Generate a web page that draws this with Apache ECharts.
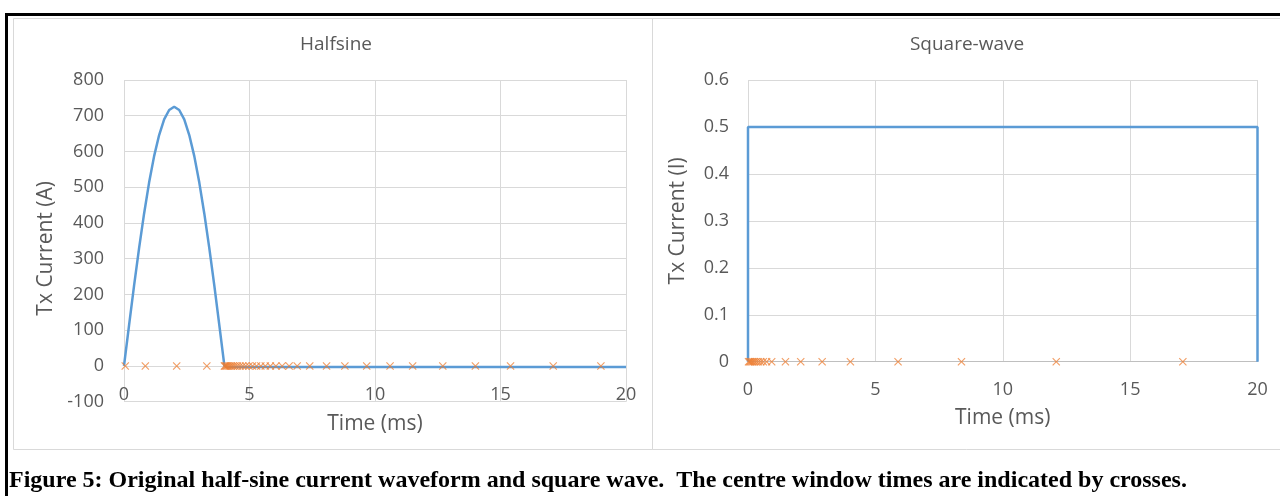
<!DOCTYPE html>
<html><head><meta charset="utf-8">
<script src="https://cdn.jsdelivr.net/npm/echarts@6/dist/echarts.min.js"></script>
<style>html,body{margin:0;padding:0;background:#fff}#c{width:1280px;height:496px}</style>
</head><body><div id="c"></div>
<script>
// ---- data ----
const xTicks = [0, 5, 10, 15, 20];
const halfsineYTicks = [-100, 0, 100, 200, 300, 400, 500, 600, 700, 800];
const squareYTicks = [0, 0.1, 0.2, 0.3, 0.4, 0.5, 0.6];

const halfsineTime    = [0,0.2,0.4,0.6,0.8,1.0,1.2,1.4,1.6,1.8,2.0,2.2,2.4,2.6,2.8,3.0,3.2,3.4,3.6,3.8,4.0,4.1,20];
const halfsineCurrent = [0,113,224,329,426,513,587,646,690,716,725,716,690,646,587,513,426,329,224,113,0,-3,-3];
const halfsineWindows = [0.05,0.85,2.1,3.3,4.0,4.03,4.07,4.11,4.16,4.22,4.28,4.35,4.43,4.52,4.62,4.73,4.85,4.98,5.12,5.28,5.45,5.63,5.83,6.05,6.3,6.58,6.9,7.4,8.07,8.8,9.67,10.6,11.5,12.7,14.0,15.4,17.1,19.0];

const squareTime    = [0, 0, 20, 20];
const squareCurrent = [0, 0.5, 0.5, 0];
const squareWindows = [0.02,0.06,0.1,0.15,0.2,0.26,0.33,0.41,0.5,0.6,0.73,0.93,1.47,2.07,2.91,4.02,5.89,8.38,12.1,17.07];

// ---- chart ----
const FONT = '"Open Sans", sans-serif';
const LABEL = '#595959';
const GRID = '#d9d9d9';
const BLUE = '#5b9bd5';
const ORANGE = '#ed7d31';
const CROSS = 'path://M1,0 L5,4 L9,0 L10,1 L6,5 L10,9 L9,10 L5,6 L1,10 L0,9 L4,5 L0,1 Z';
const TICK_SIZE = 18, NAME_SIZE = 21, TITLE_SIZE = 19;

const zip = (a, b) => a.map((v, i) => [v, b[i]]);

function xAxis(gridIndex, margin, nameGap, showLine) {
  return {
    type: 'value', gridIndex, min: xTicks[0], max: xTicks[xTicks.length - 1],
    interval: xTicks[1] - xTicks[0],
    name: 'Time (ms)', nameLocation: 'middle', nameGap,
    nameTextStyle: { color: LABEL, fontFamily: FONT, fontSize: NAME_SIZE },
    axisLine: { show: showLine, onZero: false, lineStyle: { color: '#bfbfbf', width: 1 } },
    axisTick: { show: false },
    axisLabel: { color: LABEL, fontFamily: FONT, fontSize: TICK_SIZE, margin },
    splitLine: { show: true, lineStyle: { color: GRID, width: 1 } }
  };
}
function yAxis(gridIndex, ticks, name, nameGap, margin, padding) {
  return {
    type: 'value', gridIndex, min: ticks[0], max: ticks[ticks.length - 1],
    interval: ticks[1] - ticks[0],
    name, nameLocation: 'middle', nameGap,
    nameTextStyle: { color: LABEL, fontFamily: FONT, fontSize: NAME_SIZE, padding },
    axisLine: { show: false }, axisTick: { show: false },
    axisLabel: { color: LABEL, fontFamily: FONT, fontSize: TICK_SIZE, margin },
    splitLine: { show: true, lineStyle: { color: GRID, width: 1 } }
  };
}

const chart = echarts.init(document.getElementById('c'), null, { renderer: 'canvas' });
chart.setOption({
  animation: false,
  backgroundColor: '#fff',
  grid: [
    { left: 124, top: 80, width: 502, height: 321.7 },
    { left: 748, top: 80, width: 509.5, height: 281.7 }
  ],
  xAxis: [xAxis(0, -16, 12, false), xAxis(1, 19, 46, true)],
  yAxis: [
    yAxis(0, halfsineYTicks, 'Tx Current (A)', 67, 20, [0, 15, 0, 0]),
    yAxis(1, squareYTicks, 'Tx Current (I)', 59, 19, 0)
  ],
  series: [
    { type: 'line', xAxisIndex: 0, yAxisIndex: 0, data: zip(halfsineTime, halfsineCurrent),
      showSymbol: false, lineStyle: { color: BLUE, width: 2.5 }, z: 2 },
    { type: 'scatter', xAxisIndex: 0, yAxisIndex: 0, data: halfsineWindows.map(t => [t, 0]),
      symbol: CROSS, symbolSize: 8, itemStyle: { color: ORANGE, opacity: 0.75 }, z: 3 },
    { type: 'line', xAxisIndex: 1, yAxisIndex: 1, data: zip(squareTime, squareCurrent),
      showSymbol: false, lineStyle: { color: BLUE, width: 2.5 }, z: 2 },
    { type: 'scatter', xAxisIndex: 1, yAxisIndex: 1, data: squareWindows.map(t => [t, 0]),
      symbol: CROSS, symbolSize: 8, itemStyle: { color: ORANGE, opacity: 0.75 }, z: 3 }
  ],
  graphic: [
    { type: 'rect', shape: { x: 13.5, y: 18.5, width: 639, height: 431 }, style: { fill: 'none', stroke: GRID, lineWidth: 1 }, z: -10 },
    { type: 'rect', shape: { x: 652.5, y: 18.5, width: 640, height: 431 }, style: { fill: 'none', stroke: GRID, lineWidth: 1 }, z: -10 },
    { type: 'rect', shape: { x: 5, y: 13, width: 1290, height: 3 }, style: { fill: '#000' } },
    { type: 'rect', shape: { x: 5, y: 13, width: 3, height: 500 }, style: { fill: '#000' } },
    { type: 'text', x: 336, y: 45, style: { text: 'Halfsine', fill: LABEL, font: TITLE_SIZE + 'px ' + FONT, align: 'center', verticalAlign: 'middle' } },
    { type: 'text', x: 967, y: 45, style: { text: 'Square-wave', fill: LABEL, font: TITLE_SIZE + 'px ' + FONT, align: 'center', verticalAlign: 'middle' } },
    { type: 'text', x: 9, y: 481, style: { text: 'Figure 5: Original half-sine current waveform and square wave.  The centre window times are indicated by crosses.', fill: '#000', font: 'bold 24px "Liberation Serif", serif', align: 'left', verticalAlign: 'middle' } }
  ]
});
</script></body></html>
